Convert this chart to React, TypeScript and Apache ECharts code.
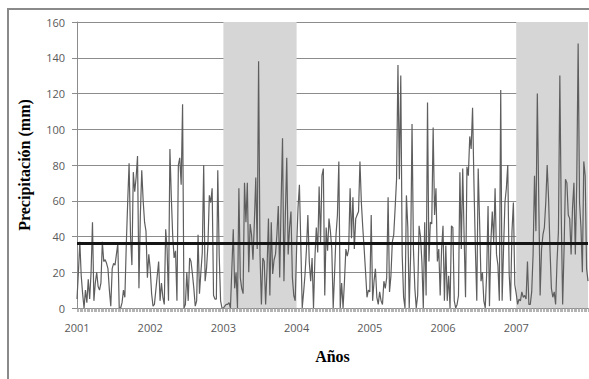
import React, { useEffect, useRef } from "react";
import * as echarts from "echarts";

// Weekly precipitation (mm), 52 readings per year
const YEARS = ["2001", "2002", "2003", "2004", "2005", "2006", "2007"];

const P2001 = [5, 20, 37, 18, 8, 0, 10, 3, 16, 5, 20, 48, 4, 14, 20, 12, 10, 14, 37, 26, 27, 25, 22, 10, 1, 22, 25, 24, 30, 36, 0, 0, 3, 10, 6, 35, 59, 81, 41, 24, 76, 65, 73, 85, 11, 52, 77, 60, 48, 43, 17, 30];
const P2002 = [22, 8, 1, 2, 10, 18, 26, 4, 14, 6, 2, 44, 33, 4, 89, 62, 40, 28, 32, 4, 80, 84, 69, 114, 0, 2, 20, 4, 28, 26, 19, 11, 1, 4, 41, 8, 20, 31, 80, 15, 22, 35, 63, 59, 67, 7, 5, 5, 77, 30, 4, 0];
const P2003 = [0, 1, 2, 2, 3, 0, 22, 44, 11, 20, 0, 67, 17, 11, 8, 70, 48, 70, 20, 47, 41, 27, 48, 73, 33, 138, 30, 2, 28, 26, 2, 22, 50, 7, 48, 19, 27, 30, 41, 57, 17, 59, 95, 15, 52, 84, 30, 45, 54, 17, 7, 4];
const P2004 = [33, 56, 69, 35, 0, 9, 19, 33, 52, 26, 15, 28, 0, 28, 45, 31, 68, 37, 74, 78, 7, 45, 32, 50, 43, 33, 0, 20, 41, 52, 82, 0, 14, 0, 15, 33, 29, 33, 67, 39, 62, 33, 50, 52, 54, 82, 59, 45, 33, 20, 6, 10];
const P2005 = [9, 52, 4, 15, 22, 6, 2, 9, 4, 2, 15, 11, 17, 62, 9, 18, 37, 41, 56, 72, 136, 72, 130, 30, 6, 0, 63, 45, 0, 30, 103, 33, 11, 0, 7, 46, 40, 26, 0, 48, 7, 115, 26, 48, 47, 101, 52, 67, 26, 33, 7, 33];
const P2006 = [46, 4, 35, 4, 18, 0, 46, 45, 4, 0, 2, 7, 76, 33, 78, 40, 6, 79, 74, 96, 89, 112, 69, 33, 4, 78, 48, 15, 20, 4, 0, 19, 57, 1, 37, 54, 37, 67, 30, 24, 4, 122, 4, 33, 59, 67, 80, 19, 4, 43, 59, 13];
const P2007 = [8, 2, 5, 4, 9, 6, 7, 5, 26, 2, 2, 9, 30, 74, 43, 120, 61, 7, 33, 41, 45, 59, 80, 61, 33, 11, 6, 9, 2, 26, 43, 130, 52, 2, 33, 72, 70, 52, 50, 30, 56, 70, 30, 70, 148, 59, 45, 20, 82, 74, 22, 15];

const SERIES_BY_YEAR = [P2001, P2002, P2003, P2004, P2005, P2006, P2007];

// Average precipitation reference line (mm)
const MEAN = 36.5;

// Years highlighted with a grey band
const SHADED_YEARS = ["2003", "2007"];

const WEEKS = 52;

export default function App() {
  const ref = useRef<HTMLDivElement>(null);

  useEffect(() => {
    if (!ref.current) return;
    const chart = echarts.init(ref.current, undefined, { renderer: "svg" });

    const categories: string[] = [];
    const values: number[] = [];
    YEARS.forEach((y, yi) => {
      SERIES_BY_YEAR[yi].forEach((v, w) => {
        categories.push(`${y}-${w + 1}`);
        values.push(v);
      });
    });

    const bands = SHADED_YEARS.map((y) => {
      const start = YEARS.indexOf(y) * WEEKS;
      const end = Math.min(start + WEEKS, categories.length - 1);
      return [{ xAxis: categories[start] }, { xAxis: categories[end] }];
    });

    const tickFont = {
      color: "#595959",
      fontFamily: "Open Sans",
      fontSize: 11,
    };
    const titleFont = {
      color: "#000",
      fontFamily: "Liberation Serif",
      fontWeight: "bold" as const,
      fontSize: 16,
    };

    chart.setOption({
      animation: false,
      graphic: [
        {
          type: "rect",
          silent: true,
          shape: { x: 8, y: 9, width: 800, height: 600 },
          style: { fill: "none", stroke: "#8a8a8a", lineWidth: 2 },
        },
      ],
      grid: { left: 77, top: 22, right: 1, bottom: 71 },
      xAxis: {
        type: "category",
        data: categories,
        boundaryGap: false,
        axisLine: { lineStyle: { color: "#8c8c8c", width: 1 } },
        axisTick: {
          show: true,
          interval: 0,
          length: 4,
          lineStyle: { color: "#a0a0a0", width: 0.8 },
        },
        axisLabel: {
          ...tickFont,
          interval: WEEKS - 1,
          margin: 14,
          formatter: (v: string) => v.slice(0, 4),
        },
        splitLine: { show: false },
        name: "Años",
        nameLocation: "middle",
        nameGap: 40,
        nameTextStyle: titleFont,
      },
      yAxis: {
        type: "value",
        min: 0,
        max: 160,
        interval: 20,
        axisLine: { show: true, lineStyle: { color: "#8c8c8c" } },
        axisTick: { show: true, length: 5, lineStyle: { color: "#8c8c8c" } },
        splitLine: { lineStyle: { color: "#8c8c8c", width: 1 } },
        axisLabel: { ...tickFont, margin: 12 },
        name: "Precipitación (mm)",
        nameLocation: "middle",
        nameGap: 45,
        nameTextStyle: titleFont,
      },
      series: [
        {
          type: "line",
          data: values,
          symbol: "none",
          z: 3,
          lineStyle: { color: "#5e5e5e", width: 1.2 },
          markArea: {
            silent: true,
            z: 1,
            itemStyle: { color: "#d6d6d6" },
            data: bands,
          },
          markLine: {
            silent: true,
            symbol: "none",
            z: 4,
            label: { show: false },
            lineStyle: { color: "#141414", width: 3, type: "solid" },
            data: [{ yAxis: MEAN }],
          },
        },
      ],
    });

    return () => chart.dispose();
  }, []);

  return (
    <div
      ref={ref}
      style={{ position: "absolute", left: 0, top: 0, width: 589, height: 379, background: "#fff" }}
    />
  );
}
